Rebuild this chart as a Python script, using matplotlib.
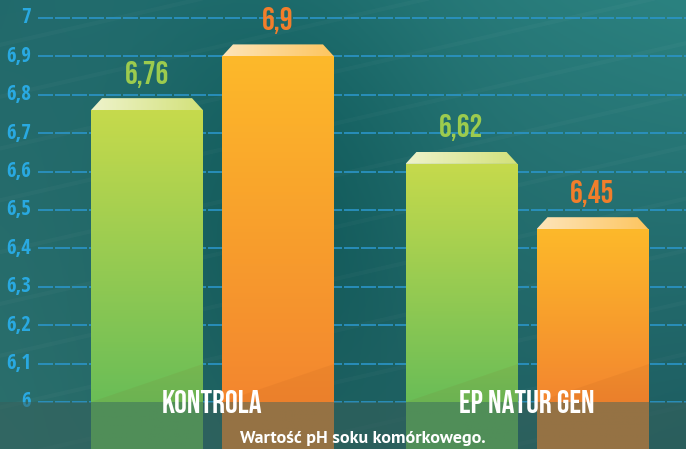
import numpy as np
import matplotlib.pyplot as plt
from matplotlib.colors import to_rgb, LinearSegmentedColormap
from matplotlib.patches import Polygon

# data
groups = ['KONTROLA', 'EP NATUR GEN']
series_green = [6.76, 6.62]
series_orange = [6.9, 6.45]
value_labels_green = ['6,76', '6,62']
value_labels_orange = ['6,9', '6,45']
y_ticks = [6.0, 6.1, 6.2, 6.3, 6.4, 6.5, 6.6, 6.7, 6.8, 6.9, 7.0]
y_tick_labels = ['6', '6,1', '6,2', '6,3', '6,4', '6,5', '6,6', '6,7', '6,8', '6,9', '7']
caption = 'Wartość pH soku komórkowego.'

W, H = 686, 449
ppu = 384.0  # pixels per 1.0 pH
y_lo = 6.0 - 47 / ppu
y_hi = 7.0 + 18 / ppu
display_font = ['Bebas Neue', 'Roboto Condensed', 'DejaVu Sans']
tick_font = ['Open Sans Condensed', 'PT Sans Narrow', 'DejaVu Sans']
caption_font = ['PT Sans', 'DejaVu Sans']

fig = plt.figure(figsize=(W / 100, H / 100), dpi=100)

# background gradient
bg = fig.add_axes([0, 0, 1, 1])
bg.axis('off')
xx, yy = np.meshgrid(np.linspace(0, 1, 300), np.linspace(0, 1, 200))
tl, tr = np.array(to_rgb('#226a6c')), np.array(to_rgb('#2b8280'))
bl, br = np.array(to_rgb('#2b6f6c')), np.array(to_rgb('#1d5c60'))
img = ((1 - xx)[..., None] * (1 - yy)[..., None] * tl + xx[..., None] * (1 - yy)[..., None] * tr
       + (1 - xx)[..., None] * yy[..., None] * bl + xx[..., None] * yy[..., None] * br)
dark = np.exp(-((xx - 0.42) ** 2) / 0.05 - ((yy - 0.45) ** 2) / 0.3)
img = np.clip(img - 0.07 * dark[..., None], 0, 1)
bg.imshow(img, aspect='auto', extent=(0, 1, 0, 1), origin='upper')
# faint diagonal light streaks
for k in np.linspace(-0.6, 0.9, 14):
    bg.plot([0, 1], [k, k + 0.35], color='white', alpha=0.025, lw=3)
bg.set_xlim(0, 1)
bg.set_ylim(0, 1)

ax = fig.add_axes([0, 0, 1, 1])
ax.patch.set_alpha(0)
ax.set_xlim(0, W)
ax.set_ylim(y_lo, y_hi)
ax.axis('off')

# grid + tick labels
ax.hlines(y_ticks, 38, W, color='#2b95c8', lw=1.2, linestyles=(0, (9, 1.2)), zorder=1)
for t, lab in zip(y_ticks, y_tick_labels):
    ax.text(31, t, lab, ha='right', va='center', color='#29a9e1', fontsize=15,
            fontweight='bold', family=tick_font, zorder=2)

group_x = np.array([212.5, 527.0])
bar_w = 112
off = 65.5
bevel_h = 12 / ppu
bevel_in = 11

green_cm = LinearSegmentedColormap.from_list('g', ['#6abd57', '#c6da4c'])
orange_cm = LinearSegmentedColormap.from_list('o', ['#f3862f', '#fdb92a'])
green_top = LinearSegmentedColormap.from_list('gt', ['#eef3cc', '#d3e17a'])
orange_top = LinearSegmentedColormap.from_list('ot', ['#fee5bb', '#fdc55f'])


def draw_bars(xs, vals, cmap, top_cmap, labels, lab_color):
    bars = ax.bar(xs, np.array(vals) - y_lo, bottom=y_lo, width=bar_w, color='none', zorder=3)
    for b, v, lab in zip(bars, vals, labels):
        x0 = b.get_x()
        x1 = x0 + b.get_width()
        grad = np.linspace(0, 1, 256)[:, None]
        grad = np.clip((grad * (v - y_lo) + y_lo - 6.0) / (v - 6.0), 0, 1)
        im = ax.imshow(grad, cmap=cmap, aspect='auto', origin='lower',
                       extent=(x0, x1, y_lo, v), zorder=3, vmin=0, vmax=1)
        im.set_clip_path(b)
        # soft diagonal shade in lower part
        tri = Polygon([(x0, 6.0), (x1, 6.0), (x1, 6.0 + 38 / ppu)], closed=True,
                      facecolor='#8a3a10', alpha=0.07, edgecolor='none', zorder=3.5)
        ax.add_patch(tri)
        # bevel top
        bev = Polygon([(x0, v), (x1, v), (x1 - bevel_in, v + bevel_h), (x0 + bevel_in, v + bevel_h)],
                      closed=True, facecolor='none', edgecolor='none', zorder=3)
        ax.add_patch(bev)
        hgrad = np.linspace(0, 1, 256)[None, :]
        im2 = ax.imshow(hgrad, cmap=top_cmap, aspect='auto', origin='lower',
                        extent=(x0, x1, v, v + bevel_h), zorder=3)
        im2.set_clip_path(bev)
        ax.text((x0 + x1) / 2, v + 36 / ppu, lab, ha='center', va='center', color=lab_color,
                fontsize=23, family=display_font, zorder=4)


draw_bars(group_x - off, series_green, green_cm, green_top, value_labels_green, '#9ccb4e')
draw_bars(group_x + off, series_orange, orange_cm, orange_top, value_labels_orange, '#f27e2b')

ax.set_xlim(0, W)
ax.set_ylim(y_lo, y_hi)

# darker band below baseline
ax.axhspan(y_lo, 6.0, color='#38605a', alpha=0.5, lw=0, zorder=5)

for gx, g in zip(group_x, groups):
    ax.text(gx, 6.0, g, ha='center', va='center', color='white', fontsize=23,
            family=display_font, zorder=6)

ax.text(363, 6.0 - 36 / ppu, caption, ha='center', va='center', color='white',
        fontsize=13, fontweight='bold', family=caption_font, zorder=6)

fig.savefig('out.png', dpi=100)
